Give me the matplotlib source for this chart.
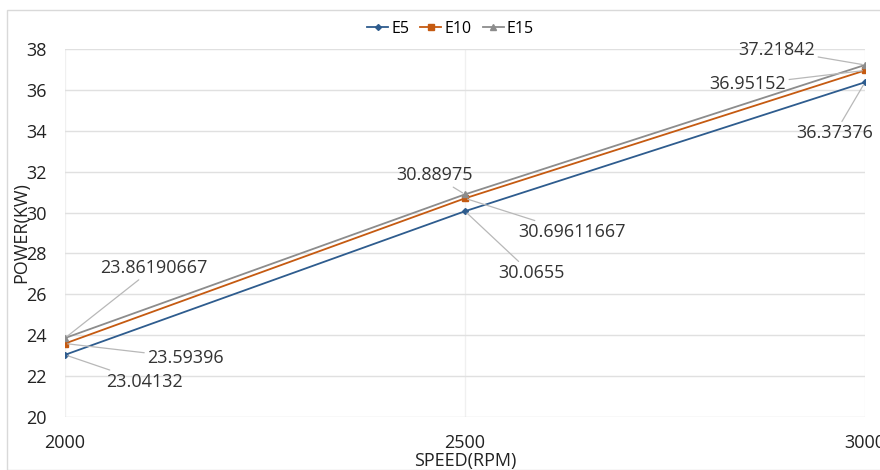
import matplotlib
matplotlib.use("Agg")
import matplotlib.pyplot as plt
from matplotlib.patches import Rectangle

speed = [2000, 2500, 3000]
e5 = [23.04132, 30.0655, 36.37376]
e10 = [23.59396, 30.69611667, 36.95152]
e15 = [23.86190667, 30.88975, 37.21842]
e5_labels = ["23.04132", "30.0655", "36.37376"]
e10_labels = ["23.59396", "30.69611667", "36.95152"]
e15_labels = ["23.86190667", "30.88975", "37.21842"]
yticks = [20, 22, 24, 26, 28, 30, 32, 34, 36, 38]
xticks = [2000, 2500, 3000]

plt.rcParams['font.family'] = ['Open Sans', 'DejaVu Sans']

fig = plt.figure(figsize=(8.8, 4.7), dpi=100)
ax = fig.add_axes([65/880, 1 - 417/470, 800/880, (417-49)/470])

c5 = '#2E5C8E'
c10 = '#C55A11'
c15 = '#8C8C8C'

ax.plot(speed, e5, color=c5, marker='D', markersize=3, lw=1.3, label='E5', zorder=3)
ax.plot(speed, e10, color=c10, marker='s', markersize=5, lw=1.3, label='E10', zorder=3)
ax.plot(speed, e15, color=c15, marker='^', markersize=5, lw=1.3, label='E15', zorder=3)

ax.set_xlim(2000, 3000)
ax.set_ylim(20, 38)
ax.set_yticks(yticks)
ax.set_xticks(xticks)
ax.grid(True, axis='y', color='#E0E0E0', lw=1)
ax.grid(True, axis='x', color='#F0F0F0', lw=1)
ax.set_axisbelow(True)
for s in ax.spines.values():
    s.set_visible(False)
ax.tick_params(length=0, labelsize=13, colors='#222222')
ax.tick_params(axis='x', pad=12)
ax.tick_params(axis='y', pad=13)

ax.set_xlabel('SPEED(RPM)', fontsize=13, labelpad=0, color='#222222')
ax.set_ylabel('POWER(KW)', fontsize=13, labelpad=-3, color='#222222')

lc = '#B8B8B8'
fs = 13
tc = '#333333'
arrow = dict(arrowstyle='-', color=lc, lw=0.9, shrinkA=0, shrinkB=2)

# offsets in points (dpi 100 -> 1 px = 0.72 pt)
def px(dx, dy):
    return (dx * 0.72, -dy * 0.72)

e15_off = [(px(35, -70), 'left'), (px(-31, -19), 'center'), (px(-88, -15), 'center')]
e10_off = [(px(82, 14), 'left'), (px(53, 34), 'left'), (px(-117, 14), 'center')]
e5_off = [(px(41, 27), 'left'), (px(33, 62), 'left'), (px(-30, 51), 'center')]

for vals, labs, offs in ((e15, e15_labels, e15_off), (e10, e10_labels, e10_off), (e5, e5_labels, e5_off)):
    for x, y, lab, (off, ha) in zip(speed, vals, labs, offs):
        ax.annotate(lab, xy=(x, y), xytext=off, textcoords='offset points',
                    ha=ha, va='center', fontsize=fs, color=tc,
                    arrowprops=arrow, annotation_clip=False, zorder=4)

leg = ax.legend(loc='upper center', bbox_to_anchor=(0.482, 1.115), ncol=3, frameon=False,
                fontsize=11.5, handlelength=1.3, handletextpad=0.2, columnspacing=0.7)

fig.patches.append(Rectangle((7/880, 0), 1.2, 1 - 10/470, transform=fig.transFigure,
                             fill=False, edgecolor='#D9D9D9', lw=1))

fig.savefig('out.png', dpi=100)
